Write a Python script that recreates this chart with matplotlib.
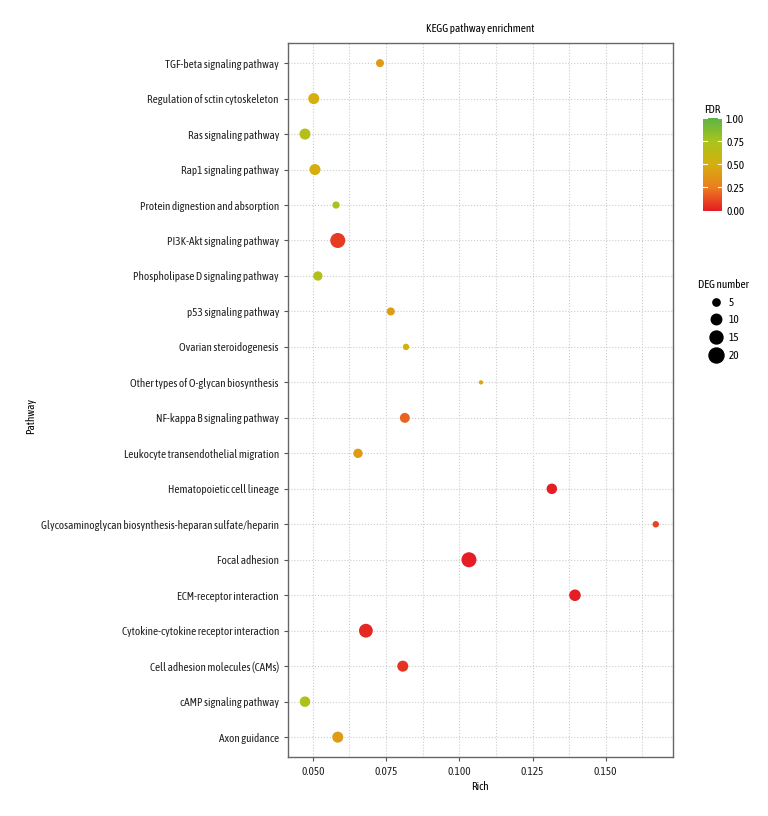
import numpy as np
import matplotlib
matplotlib.use("Agg")
import matplotlib.pyplot as plt
from matplotlib.colors import LinearSegmentedColormap, Normalize
from matplotlib.lines import Line2D
from matplotlib.ticker import MultipleLocator
from matplotlib.textpath import TextPath
from matplotlib.font_manager import FontProperties

plt.rcParams['font.family'] = ['Asap Condensed', 'DejaVu Sans']

# pathways from bottom to top
pathways = [
    "Axon guidance",
    "cAMP signaling pathway",
    "Cell adhesion molecules (CAMs)",
    "Cytokine-cytokine receptor interaction",
    "ECM-receptor interaction",
    "Focal adhesion",
    "Glycosaminoglycan biosynthesis-heparan sulfate/heparin",
    "Hematopoietic cell lineage",
    "Leukocyte transendothelial migration",
    "NF-kappa B signaling pathway",
    "Other types of O-glycan biosynthesis",
    "Ovarian steroidogenesis",
    "p53 signaling pathway",
    "Phospholipase D signaling pathway",
    "PI3K-Akt signaling pathway",
    "Protein dignestion and absorption",
    "Rap1 signaling pathway",
    "Ras signaling pathway",
    "Regulation of sctin cytoskeleton",
    "TGF-beta signaling pathway",
]
rich = [0.0585, 0.0473, 0.0807, 0.0681, 0.1395, 0.1033, 0.1671, 0.1316, 0.0654, 0.0814,
        0.1074, 0.0818, 0.0766, 0.0517, 0.0585, 0.0579, 0.0507, 0.0473, 0.0503, 0.0729]
fdr = [0.40, 0.72, 0.06, 0.03, 0.0, 0.0, 0.10, 0.0, 0.40, 0.18,
       0.45, 0.50, 0.40, 0.70, 0.08, 0.72, 0.50, 0.70, 0.50, 0.40]
deg = [11, 10, 11, 17, 12, 20, 4, 10, 8, 9,
       2, 4, 6, 8, 20, 5, 11, 11, 11, 6]

size_breaks = [5, 10, 15, 20]

# size the text so the longest pathway takes about the same width as in the original
longest = max(pathways, key=len)
w_pt = TextPath((0, 0), longest, size=10,
                prop=FontProperties(family=plt.rcParams['font.family'])).get_extents().width
fs = min(9.5, 10 * (238 * 0.72) / w_pt)


def marker_area(n):
    # diameter in px grows with sqrt of count, converted to pt^2
    d_px = np.sqrt(11.5 * np.asarray(n, dtype=float) - 4.5)
    return (d_px * 0.72) ** 2


cmap = LinearSegmentedColormap.from_list(
    "fdr", ["#E51D25", "#EB7E1E", "#D6AE0E", "#A9C41C", "#5DB346"])
norm = Normalize(0, 1)

fig = plt.figure(figsize=(7.68, 8.16), dpi=100)
ax = fig.add_axes([0.375, 0.0723, 0.501, 0.8747])

y = np.arange(len(pathways))
ax.scatter(rich, y, s=marker_area(deg), c=fdr, cmap=cmap, norm=norm,
           edgecolors='none', zorder=3)

ax.set_xlim(0.0415, 0.1729)
ax.set_ylim(-0.56, len(pathways) - 1 + 0.56)
ax.set_yticks(y)
ax.set_yticklabels(pathways)
ax.xaxis.set_minor_locator(MultipleLocator(0.0125))
ax.set_xticks([0.05, 0.075, 0.1, 0.125, 0.15])
ax.set_xticklabels(["0.050", "0.075", "0.100", "0.125", "0.150"])

ax.grid(True, which='both', axis='x', color='#cccccc', linestyle=':', linewidth=0.8)
ax.grid(True, which='major', axis='y', color='#cccccc', linestyle=':', linewidth=0.8)
ax.set_axisbelow(True)
ax.tick_params(axis='both', which='major', labelsize=fs, color='#555555', length=3,
               labelcolor='#222222')
ax.tick_params(axis='x', which='minor', length=0)
for sp in ax.spines.values():
    sp.set_color('#666666')
    sp.set_linewidth(1.0)

ax.set_xlabel("Rich", fontsize=fs, labelpad=3)
ax.set_title("KEGG pathway enrichment", fontsize=fs, pad=8)
fig.text(0.04, 0.49, "Pathway", rotation=90, fontsize=fs, ha='center', va='center')

# FDR colorbar
cax = fig.add_axes([0.916, 0.742, 0.024, 0.113])
sm = plt.cm.ScalarMappable(norm=norm, cmap=cmap)
cb = fig.colorbar(sm, cax=cax, ticks=[0, 0.25, 0.5, 0.75, 1.0])
cb.ax.set_yticklabels(["0.00", "0.25", "0.50", "0.75", "1.00"])
cb.outline.set_visible(False)
cb.ax.tick_params(labelsize=fs, length=0, pad=3)
for t in [0, 0.25, 0.5, 0.75, 1.0]:
    cax.plot([0, 0.2], [t, t], color='white', lw=0.8, transform=cax.get_yaxis_transform())
    cax.plot([0.8, 1.0], [t, t], color='white', lw=0.8, transform=cax.get_yaxis_transform())
cax.set_title("FDR", fontsize=fs, pad=4)

# DEG number size legend
handles = [Line2D([], [], marker='o', linestyle='none', color='black',
                  markersize=np.sqrt(marker_area(n)), label=str(n)) for n in size_breaks]
leg = fig.legend(handles=handles, title="DEG number", loc='upper left',
                 bbox_to_anchor=(0.898, 0.668), frameon=False, fontsize=fs,
                 title_fontsize=fs, handletextpad=0.3, labelspacing=0.6,
                 borderpad=0.2, handlelength=1.6)

fig.savefig("out.png", dpi=100)
